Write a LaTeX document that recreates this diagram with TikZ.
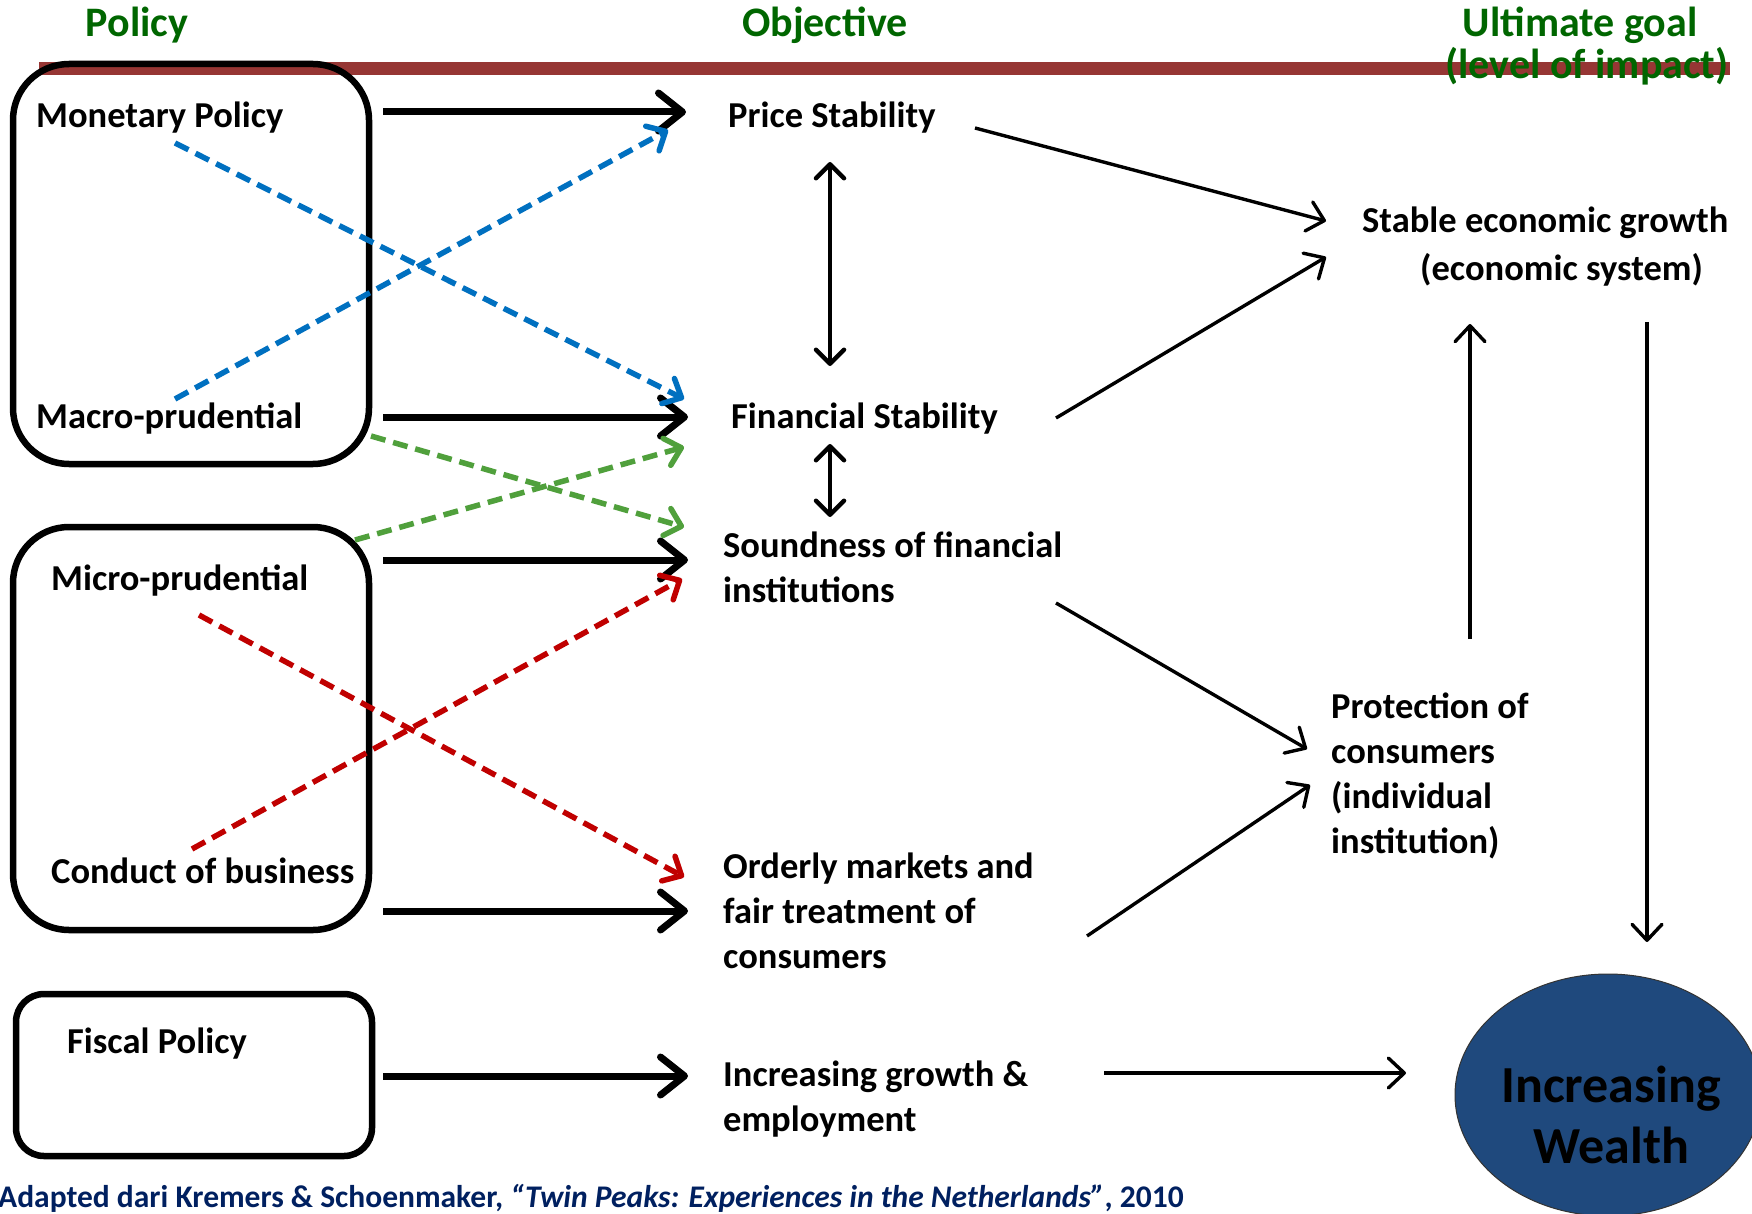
\documentclass[tikz,border=0pt]{standalone}
\usepackage{fontspec}
\setmainfont{Carlito}
\usetikzlibrary{arrows.meta,shapes.geometric}

\definecolor{headgreen}{RGB}{0,102,0}
\definecolor{barred}{RGB}{150,54,52}
\definecolor{dashblue}{RGB}{0,112,192}
\definecolor{dashgreen}{RGB}{80,160,60}
\definecolor{dashred}{RGB}{192,0,0}
\definecolor{wealthblue}{RGB}{31,73,125}
\definecolor{captionblue}{RGB}{0,32,96}

\tikzset{
  lbl/.style={anchor=base west, inner sep=0pt, font=\fontsize{36.5}{45}\selectfont\bfseries},
  header/.style={anchor=base, inner sep=0pt, text=headgreen, font=\fontsize{42}{46}\selectfont\bfseries},
  policybox/.style={draw, line width=6.5pt, rounded corners=56pt, inner sep=0pt},
  bigarrow/.style={line width=7pt, -{Straight Barb[length=24pt,width=38pt,round]}},
  twoway/.style={line width=4.5pt, {Straight Barb[length=14pt,width=28pt,round]}-{Straight Barb[length=14pt,width=28pt,round]}},
  thinarrow/.style={line width=3.4pt, -{Straight Barb[length=16pt,width=30pt,round]}},
  dasharrow/.style={line width=5.5pt, dash pattern=on 15pt off 8pt, -{Straight Barb[length=15pt,width=28pt,round]}},
}

\begin{document}
\begin{tikzpicture}[x=1pt,y=-1pt]
\clip (0,0) rectangle (1752,1214);
\fill[white] (0,0) rectangle (1752,1214);

% rule under the column headings
\fill[barred] (39,62) rectangle (1730,75);

% column headings
\node[header] (hpolicy) at (137,37) {Policy};
\node[header] (hobjective) at (825,37) {Objective};
\node[header] (hgoal) at (1580,37) {Ultimate goal};
\node[header] (himpact) at (1587,79) {(level of impact)};

% policy groups
\node[policybox, minimum width=356pt, minimum height=400pt] (centralbox) at (191,264) {};
\node[policybox, minimum width=356pt, minimum height=403pt] (supervisorbox) at (191,728.5) {};
\node[policybox, rounded corners=28pt, minimum width=356pt, minimum height=162pt] (fiscalbox) at (194,1075) {};

% policy instruments
\node[lbl] (monetary) at (36,128) {Monetary Policy};
\node[lbl] (macro) at (36,428) {Macro-prudential};
\node[lbl] (micro) at (51,590) {Micro-prudential};
\node[lbl] (conduct) at (51,883) {Conduct of business};
\node[lbl] (fiscal) at (67,1053) {Fiscal Policy};

% objectives
\node[lbl] (price) at (728,128) {Price Stability};
\node[lbl] (finstab) at (731,428) {Financial Stability};
\node[lbl] (sound) at (723,557) {\begin{tabular}[t]{@{}l@{}}Soundness of financial\\institutions\end{tabular}};
\node[lbl] (orderly) at (723,878) {\begin{tabular}[t]{@{}l@{}}Orderly markets and\\fair treatment of\\consumers\end{tabular}};
\node[lbl] (growth) at (723,1086) {\begin{tabular}[t]{@{}l@{}}Increasing growth \&\\employment\end{tabular}};

% ultimate goals
\node[lbl] (stable) at (1362,233) {\begin{tabular}[t]{@{}l@{}}Stable economic growth\\[3pt]\hspace*{58pt}(economic system)\end{tabular}};
\node[lbl] (protect) at (1331,718) {\begin{tabular}[t]{@{}l@{}}Protection of\\consumers\\(individual\\institution)\end{tabular}};

\node[ellipse, draw=black!80, line width=1pt, fill=wealthblue, inner sep=0pt,
      minimum width=306pt, minimum height=242pt] (wealth) at (1608,1095) {};
\node[anchor=base, inner sep=0pt, font=\fontsize{52}{61}\selectfont\bfseries] (wealthtext) at (1611,1102)
  {\begin{tabular}[t]{@{}c@{}}Increasing\\Wealth\end{tabular}};

% connector end points
\coordinate (mon-out) at (383,112);   \coordinate (price-in) at (686,112);
\coordinate (mac-out) at (383,417);   \coordinate (fin-in) at (688,417);
\coordinate (mic-out) at (383,560);   \coordinate (sound-in) at (688,560);
\coordinate (cob-out) at (383,911);   \coordinate (ord-in) at (688,911);
\coordinate (fis-out) at (383,1076);  \coordinate (grow-in) at (688,1076);

\coordinate (price-dn) at (830,162);  \coordinate (fin-up) at (830,366);
\coordinate (fin-dn) at (830,444);    \coordinate (sound-up) at (830,517);

\coordinate (price-out) at (975,128); \coordinate (stable-in1) at (1326,221);
\coordinate (fin-out) at (1056,418);  \coordinate (stable-in2) at (1326,257);
\coordinate (sound-out) at (1056,603);\coordinate (prot-in1) at (1307,749);
\coordinate (ord-out) at (1087,936);  \coordinate (prot-in2) at (1310,785);
\coordinate (prot-up) at (1470,639);  \coordinate (stable-below) at (1470,324);
\coordinate (stable-dn) at (1647,322);\coordinate (wealth-top) at (1647,942);
\coordinate (grow-out) at (1104,1073);\coordinate (wealth-in) at (1406,1073);

\coordinate (mon-x) at (175,143);     \coordinate (fin-x) at (684,399);
\coordinate (mac-x) at (175,399);     \coordinate (price-x) at (668,130);
\coordinate (mac-g) at (371,436);     \coordinate (sound-g) at (684,527);
\coordinate (mic-g) at (355,540);     \coordinate (fin-g) at (684,447);
\coordinate (mic-r) at (199,615);     \coordinate (ord-r) at (684,877);
\coordinate (cob-r) at (192,849);     \coordinate (sound-r) at (682,579);

% main policy-to-objective links
\draw[bigarrow] (mon-out) -- (price-in);
\draw[bigarrow] (mac-out) -- (fin-in);
\draw[bigarrow] (mic-out) -- (sound-in);
\draw[bigarrow] (cob-out) -- (ord-in);
\draw[bigarrow] (fis-out) -- (grow-in);

% cross effects
\draw[dasharrow, dashblue] (mon-x) -- (fin-x);
\draw[dasharrow, dashblue] (mac-x) -- (price-x);
\draw[dasharrow, dashgreen] (mac-g) -- (sound-g);
\draw[dasharrow, dashgreen] (mic-g) -- (fin-g);
\draw[dasharrow, dashred] (mic-r) -- (ord-r);
\draw[dasharrow, dashred] (cob-r) -- (sound-r);

% interplay between objectives
\draw[twoway] (price-dn) -- (fin-up);
\draw[twoway] (fin-dn) -- (sound-up);

% objectives to ultimate goals
\draw[thinarrow] (price-out) -- (stable-in1);
\draw[thinarrow] (fin-out) -- (stable-in2);
\draw[thinarrow] (sound-out) -- (prot-in1);
\draw[thinarrow] (ord-out) -- (prot-in2);
\draw[thinarrow] (prot-up) -- (stable-below);
\draw[thinarrow] (stable-dn) -- (wealth-top);
\draw[thinarrow] (grow-out) -- (wealth-in);

% source
\node[anchor=base east, inner sep=0pt, text=captionblue, font=\fontsize{31.5}{34}\selectfont\bfseries] (source) at (1184,1207)
  {Adapted dari Kremers \& Schoenmaker, \textit{“Twin Peaks: Experiences in the Netherlands”}, 2010};
\end{tikzpicture}
\end{document}
